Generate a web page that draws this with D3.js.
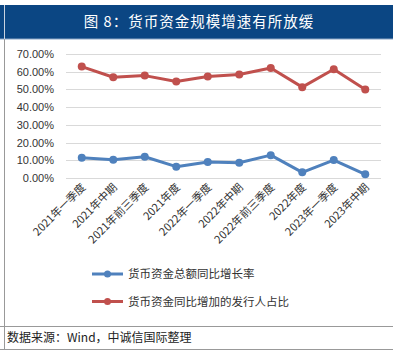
<!DOCTYPE html>
<html>
<head>
<meta charset="utf-8">
<script src="https://cdn.jsdelivr.net/npm/d3@7"></script>
<style>
  body { margin: 0; background: #fff; }
  svg { display: block; }
</style>
</head>
<body>
<svg id="chart" width="406" height="359"></svg>
<script>
// chart data
const categories = ['2021年一季度', '2021年中期', '2021年前三季度', '2021年度', '2022年一季度',
  '2022年中期', '2022年前三季度', '2022年度', '2023年一季度', '2023年中期'];
const totalGrowth = [11.4, 10.3, 12.0, 6.4, 9.0, 8.6, 12.9, 3.2, 10.1, 2.1];
const issuerShare = [62.9, 56.9, 57.8, 54.5, 57.3, 58.4, 62.1, 51.3, 61.4, 50.0];
const yTicks = [0, 10, 20, 30, 40, 50, 60, 70];
const seriesNames = ['货币资金总额同比增长率', '货币资金同比增加的发行人占比'];
const seriesColors = ['#4f81bd', '#c0504d'];

const svg = d3.select('#chart');
const cjk = '"Noto Sans CJK SC", "Noto Sans", sans-serif';

const margin = { top: 54, right: 25, bottom: 181, left: 66 };
const plotRight = 381;
const plotBottom = 178;

// frame + title banner
svg.append('rect')
  .attr('x', 0).attr('y', 5).attr('width', 393).attr('height', 34)
  .attr('fill', '#0b4683');
svg.append('line')
  .attr('x1', 0).attr('x2', 393).attr('y1', 39).attr('y2', 39)
  .attr('stroke', '#8aa4c4').attr('stroke-width', 1);
svg.append('line')
  .attr('x1', 4.5).attr('x2', 4.5).attr('y1', 5).attr('y2', 39)
  .attr('stroke', '#c9d3e0').attr('stroke-width', 1);
svg.append('text')
  .attr('x', 199).attr('y', 27)
  .attr('text-anchor', 'middle')
  .attr('fill', '#fff')
  .attr('font-family', cjk)
  .attr('font-size', 14.5)
  .attr('letter-spacing', 1)
  .text('图 8：货币资金规模增速有所放缓');

svg.append('line')
  .attr('x1', 4.5).attr('x2', 4.5).attr('y1', 39).attr('y2', 349)
  .attr('stroke', '#999').attr('stroke-width', 1);
svg.append('line')
  .attr('x1', 0).attr('x2', 393).attr('y1', 326.5).attr('y2', 326.5)
  .attr('stroke', '#999').attr('stroke-width', 1);
svg.append('line')
  .attr('x1', 0).attr('x2', 393).attr('y1', 349.5).attr('y2', 349.5)
  .attr('stroke', '#999').attr('stroke-width', 1);

// scales
const x = d3.scalePoint()
  .domain(categories)
  .range([margin.left, plotRight])
  .padding(0.5);

const y = d3.scaleLinear()
  .domain([0, 70])
  .range([plotBottom, margin.top]);

// gridlines
svg.append('g')
  .selectAll('line')
  .data(yTicks)
  .join('line')
  .attr('x1', margin.left).attr('x2', plotRight)
  .attr('y1', (d) => Math.round(y(d)) + 0.5)
  .attr('y2', (d) => Math.round(y(d)) + 0.5)
  .attr('stroke', '#d9d9d9')
  .attr('stroke-width', 1);

// y axis
const yAxis = svg.append('g')
  .attr('transform', `translate(${margin.left},0)`)
  .call(d3.axisLeft(y).tickValues(yTicks).tickSize(0).tickPadding(12)
    .tickFormat((d) => `${d.toFixed(2)}%`));
yAxis.select('.domain').remove();
yAxis.selectAll('text')
  .attr('fill', '#333')
  .attr('font-family', '"Liberation Sans", Arial, sans-serif')
  .attr('font-size', 11);

// x axis labels, rotated
const xAxis = svg.append('g')
  .attr('transform', `translate(0,${plotBottom})`)
  .call(d3.axisBottom(x).tickSize(0).tickPadding(0));
xAxis.select('.domain').remove();
xAxis.selectAll('text')
  .attr('fill', '#333')
  .attr('font-family', cjk)
  .attr('font-size', 11)
  .attr('text-anchor', 'end')
  .attr('dy', 0)
  .attr('transform', 'translate(4,10) rotate(-45)');

// lines + markers
const series = [totalGrowth, issuerShare];
const line = d3.line()
  .x((d, i) => x(categories[i]))
  .y((d) => y(d));

series.forEach((vals, s) => {
  svg.append('path')
    .datum(vals)
    .attr('fill', 'none')
    .attr('stroke', seriesColors[s])
    .attr('stroke-width', 3)
    .attr('stroke-linejoin', 'round')
    .attr('d', line);
  svg.append('g')
    .selectAll('circle')
    .data(vals)
    .join('circle')
    .attr('cx', (d, i) => x(categories[i]))
    .attr('cy', (d) => y(d))
    .attr('r', 4)
    .attr('fill', seriesColors[s]);
});

// legend
const legend = svg.append('g');
seriesNames.forEach((name, i) => {
  const ly = 274 + i * 27.5;
  legend.append('line')
    .attr('x1', 92).attr('x2', 123).attr('y1', ly).attr('y2', ly)
    .attr('stroke', seriesColors[i]).attr('stroke-width', 3);
  legend.append('circle')
    .attr('cx', 107.5).attr('cy', ly).attr('r', 3.5)
    .attr('fill', seriesColors[i]);
  legend.append('text')
    .attr('x', 128).attr('y', ly + 4)
    .attr('fill', '#333')
    .attr('font-family', cjk)
    .attr('font-size', 11.5)
    .text(name);
});

// source note
svg.append('text')
  .attr('x', 7).attr('y', 342)
  .attr('fill', '#222')
  .attr('font-family', cjk)
  .attr('font-size', 12)
  .text('数据来源：Wind，中诚信国际整理');
</script>
</body>
</html>
